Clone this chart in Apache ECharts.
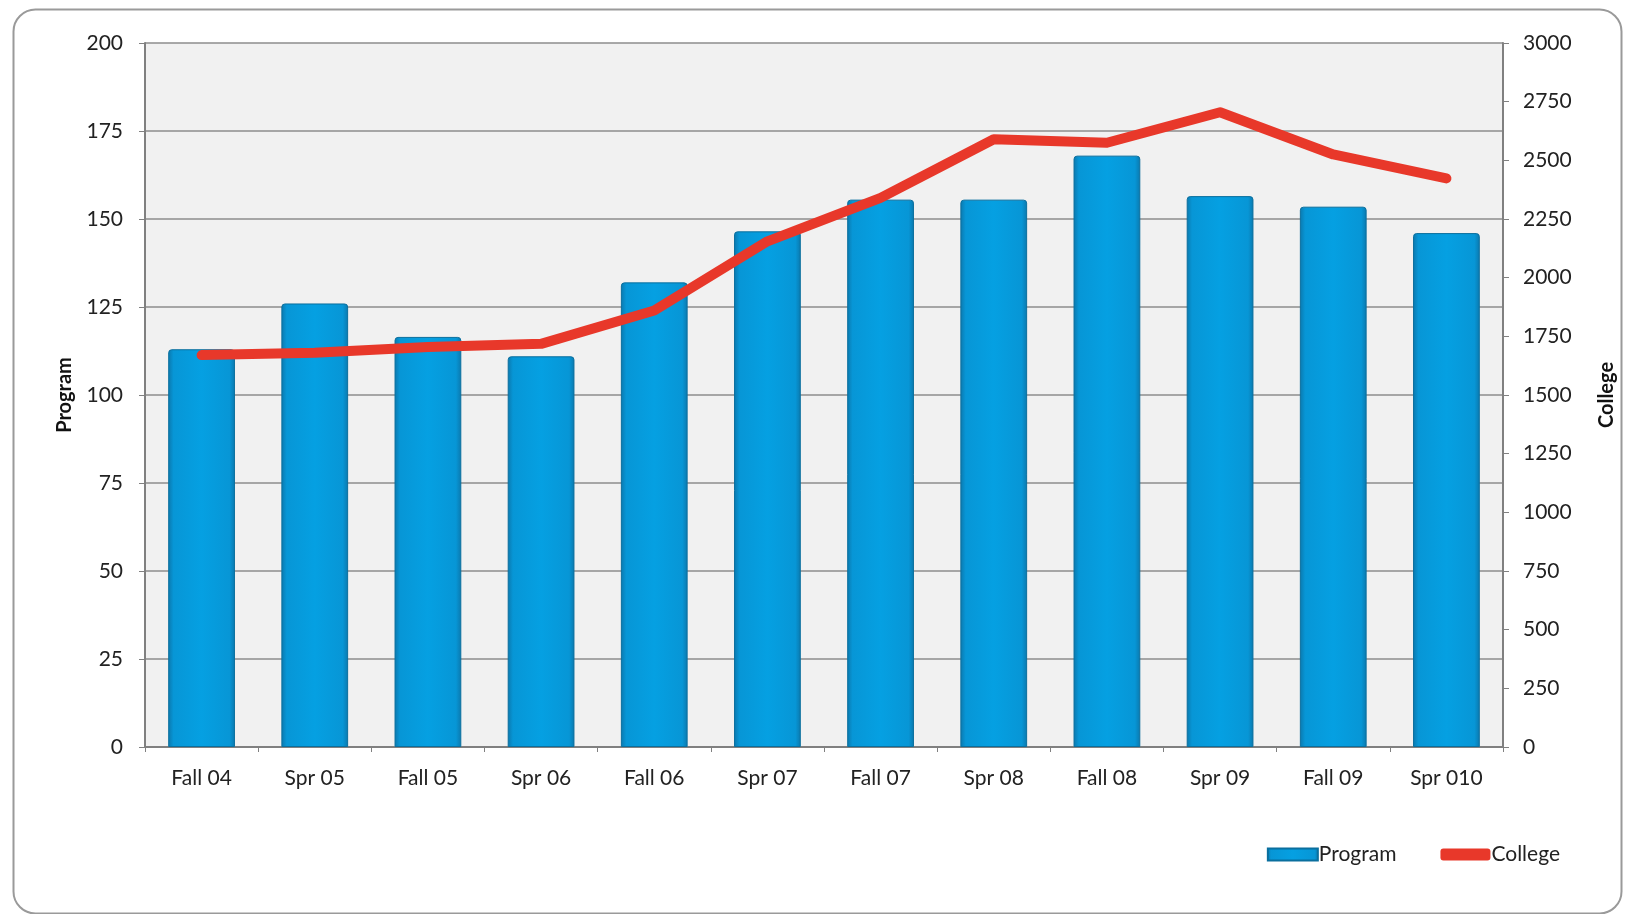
<!DOCTYPE html>
<html><head><meta charset="utf-8">
<script src="https://cdn.jsdelivr.net/npm/echarts@6/dist/echarts.min.js"></script>
<style>html,body{margin:0;padding:0;background:#fff}#c{width:1629px;height:914px}</style>
</head><body><div id="c"></div>
<script>
const categories = ['Fall 04','Spr 05','Fall 05','Spr 06','Fall 06','Spr 07','Fall 07','Spr 08','Fall 08','Spr 09','Fall 09','Spr 010'];
const programValues = [113, 126, 116.5, 111, 132, 146.5, 155.5, 155.5, 168, 156.5, 153.5, 146];
const collegeValues = [1670, 1680, 1705, 1718, 1860, 2155, 2340, 2590, 2575, 2705, 2525, 2423];
const leftTicks = {min: 0, max: 200, interval: 25};
const rightTicks = {min: 0, max: 3000, interval: 250};

const chart = echarts.init(document.getElementById('c'));
const font = 'Lato, "Open Sans", sans-serif';
const barGrad = new echarts.graphic.LinearGradient(0,0,1,0,[
  {offset:0,color:'#0b78ad'},{offset:0.08,color:'#0796d6'},{offset:0.5,color:'#05a0e2'},{offset:0.92,color:'#0796d6'},{offset:1,color:'#0b78ad'}]);
chart.setOption({
  animation:false,
  textStyle:{fontFamily:font},
  graphic:[{type:'rect',left:11,top:7,shape:{width:1608,height:904,r:22},style:{fill:'none',stroke:'#9a9a9a',lineWidth:2},z:-10}],
  grid:{left:145,right:126,top:43,bottom:167,show:true,backgroundColor:'#f1f1f1',borderWidth:0},
  legend:{right:64,bottom:44,itemGap:44,itemWidth:50,itemHeight:12,textStyle:{fontSize:21,color:'#222',fontFamily:font,padding:[0,0,0,-4]},
    data:[{name:'Program',icon:'rect'},{name:'College',icon:'roundRect',itemStyle:{color:'#e8382a'}}]},
  xAxis:{type:'category',data:categories,
    axisLine:{lineStyle:{color:'#808080',width:2}},
    axisTick:{show:true,length:5,lineStyle:{color:'#808080'}},
    axisLabel:{fontSize:21,color:'#222',margin:21}},
  yAxis:[{type:'value',min:leftTicks.min,max:leftTicks.max,interval:leftTicks.interval,
      name:'Program',nameLocation:'middle',nameGap:70,nameRotate:90,nameTextStyle:{fontSize:20,fontWeight:'bold',color:'#111'},
      axisLine:{show:true,lineStyle:{color:'#808080',width:2}},
      axisTick:{show:true,length:6,lineStyle:{color:'#808080'}},
      axisLabel:{fontSize:21,color:'#222',margin:22},
      splitLine:{lineStyle:{color:'#8c8c8c',width:1.5}}},
    {type:'value',min:rightTicks.min,max:rightTicks.max,interval:rightTicks.interval,position:'right',
      name:'College',nameLocation:'middle',nameGap:94,nameRotate:90,nameTextStyle:{fontSize:20,fontWeight:'bold',color:'#111'},
      axisLine:{show:true,lineStyle:{color:'#808080',width:2}},
      axisTick:{show:true,length:6,lineStyle:{color:'#808080'}},
      axisLabel:{fontSize:21,color:'#222',margin:20,formatter:v=>String(v)},
      splitLine:{show:false}}],
  series:[
    {name:'Program',type:'bar',data:programValues,barWidth:'59%',
      itemStyle:{color:barGrad,borderColor:'#0a6f9e',borderWidth:1,borderRadius:[3,3,0,0]}},
    {name:'College',type:'line',yAxisIndex:1,data:collegeValues,symbol:'none',
      lineStyle:{color:'#e8382a',width:10,cap:'round',join:'round'},itemStyle:{color:'#e8382a'}}
  ]
});
</script></body></html>
